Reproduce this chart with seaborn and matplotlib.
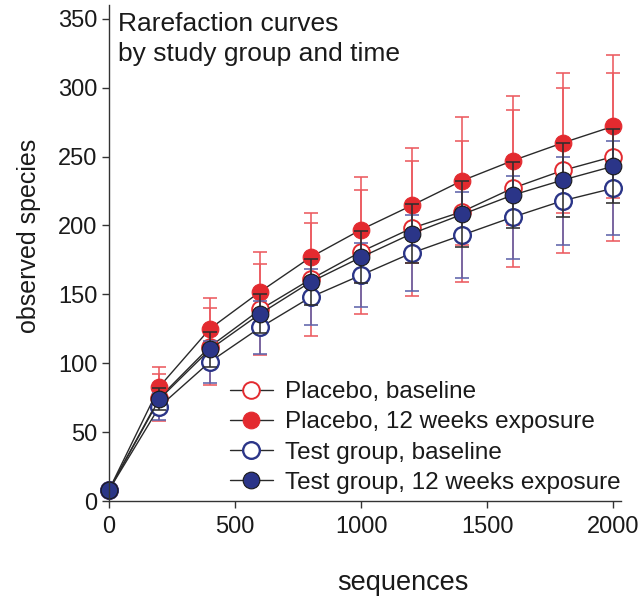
import matplotlib
matplotlib.use("Agg")
import matplotlib.pyplot as plt
import seaborn as sns
import pandas as pd

# ---- data ----
sequences = [0, 200, 400, 600, 800, 1000, 1200, 1400, 1600, 1800, 2000]

placebo_baseline = [8, 75, 112, 139, 161, 181, 198, 210, 227, 240, 250]
placebo_baseline_sd = [0, 17, 28, 33, 41, 45, 49, 51, 57, 60, 61]

placebo_12w = [8, 83, 125, 152, 177, 197, 214.5, 232.5, 247, 260, 272]
placebo_12w_sd = [0, 14, 22, 29, 32, 38, 41.5, 46.5, 47, 51, 52]

test_baseline = [8, 68.5, 101, 126, 148, 164, 180, 193, 206, 218, 227]
test_baseline_sd = [0, 10, 15, 19, 20.5, 23.5, 27.5, 31, 30, 32, 34]

test_12w = [8, 74, 110, 136, 159, 177, 194, 208, 222, 233, 243]
test_12w_sd = [0, 8, 13, 14, 17, 19, 21.5, 24, 24, 27, 27]

series_labels = ["Placebo, baseline", "Placebo, 12 weeks exposure",
                 "Test group, baseline", "Test group, 12 weeks exposure"]
x_ticks = [0, 500, 1000, 1500, 2000]
y_ticks = [0, 50, 100, 150, 200, 250, 300, 350]

title_text = "Rarefaction curves\nby study group and time"
x_label = "sequences"
y_label = "observed species"

# ---- style ----
sns.set_theme(style="ticks")
plt.rcParams["font.family"] = ["Liberation Sans", "DejaVu Sans"]
plt.rcParams["axes.edgecolor"] = "#333333"
plt.rcParams["axes.linewidth"] = 1.0
plt.rcParams["xtick.color"] = "#333333"
plt.rcParams["ytick.color"] = "#333333"
plt.rcParams["xtick.labelcolor"] = "#1a1a1a"
plt.rcParams["ytick.labelcolor"] = "#1a1a1a"

RED = "#E32A2F"
RED_ERR = "#EC5A5F"
NAVY = "#2B3588"
BLUE_ERR = "#5F64AA"
DARK_ERR = "#2e2e2e"
LINE = "#2a2a2a"

means = [placebo_baseline, placebo_12w, test_baseline, test_12w]
sds = [placebo_baseline_sd, placebo_12w_sd, test_baseline_sd, test_12w_sd]
styles = [
    dict(mfc="white", mec=RED, mew=1.4, ecol=RED_ERR),
    dict(mfc=RED, mec=RED, mew=0.8, ecol=RED_ERR),
    dict(mfc="white", mec=NAVY, mew=1.7, ecol=BLUE_ERR),
    dict(mfc=NAVY, mec="#1a1a1a", mew=0.8, ecol=DARK_ERR),
]

fig = plt.figure(figsize=(6.41, 5.96), dpi=100)
ax = fig.add_axes([109 / 641, 95 / 596, 512 / 641, (501 - 5) / 596])

handles = []
for m, s, lab, st in zip(means, sds, series_labels, styles):
    ax.errorbar(sequences, m, yerr=s, fmt="none", ecolor=st["ecol"],
                elinewidth=1.15, capsize=5, capthick=1.15, zorder=2)
    df = pd.DataFrame({"sequences": sequences, "observed": m})
    sns.lineplot(data=df, x="sequences", y="observed", ax=ax,
                 color=LINE, linewidth=1.0, marker="o", markersize=12,
                 markerfacecolor=st["mfc"], markeredgecolor=st["mec"],
                 markeredgewidth=st["mew"], errorbar=None, label=lab,
                 clip_on=False, zorder=2)
    handles.append(ax.get_lines()[-1])

ax.set_xlim(0, 2030)
ax.set_ylim(0, 360)
ax.set_xticks(x_ticks)
ax.set_yticks(y_ticks)
ax.tick_params(axis="both", direction="out", length=5, width=1.0,
               labelsize=17)
ax.tick_params(axis="y", pad=3.5)
ax.tick_params(axis="x", pad=6)
sns.despine(ax=ax)

ax.set_xlabel(x_label, fontsize=19.5, color="#1a1a1a")
ax.set_ylabel(y_label, fontsize=18, color="#1a1a1a")
ax.xaxis.label.set_va("baseline")
ax.xaxis.set_label_coords((403 - 109) / 512, (501 - 590) / 496)
ax.yaxis.label.set_va("center")
ax.yaxis.set_label_coords((29 - 109) / 512, (501 - 236) / 496)

leg = ax.legend(handles=handles, labels=series_labels, loc="upper left",
                bbox_to_anchor=((230 - 109) / 512, (501 - 381) / 496),
                bbox_transform=ax.transAxes, frameon=False, fontsize=17.5,
                handlelength=1.75, handletextpad=0.5, labelspacing=0.34,
                borderpad=0, borderaxespad=0)
for t in leg.get_texts():
    t.set_color("#1a1a1a")

fig.text(118 / 641, 1 - 61 / 596, title_text, fontsize=19, va="baseline",
         ha="left", color="#1a1a1a", linespacing=1.3)

fig.savefig("out.png", dpi=100)
